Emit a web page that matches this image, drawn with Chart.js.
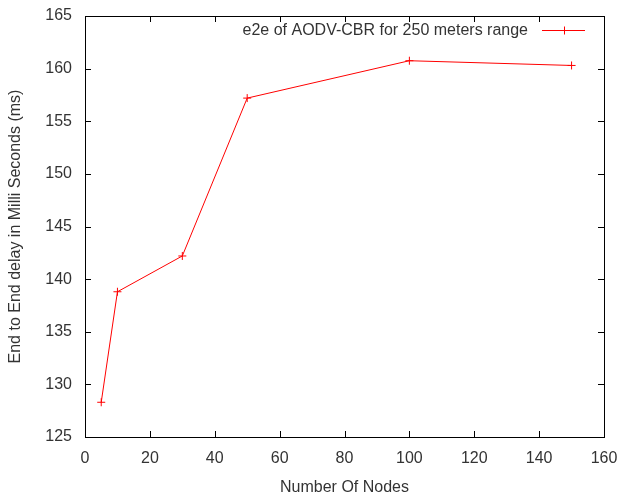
<!DOCTYPE html>
<html>
<head>
<meta charset="utf-8">
<script src="https://cdn.jsdelivr.net/npm/chart.js@4/dist/chart.umd.min.js"></script>
<style>
  html, body { margin: 0; padding: 0; background: #fff; }
  #wrap { width: 619px; height: 497px; }
</style>
</head>
<body>
<div id="wrap"><canvas id="c" width="619" height="497"></canvas></div>
<script>
// data
const nodes = [5, 10, 30, 50, 100, 150];
const delayMs = [128.3, 138.8, 142.2, 157.2, 160.75, 160.3];
const seriesLabel = 'e2e of AODV-CBR for 250 meters range';
const xTitle = 'Number Of Nodes';
const yTitle = 'End to End delay in Milli Seconds (ms)';

const FONT = '"Liberation Sans", Arial, sans-serif';
const TEXT = '#333';

// gnuplot style frame, inward ticks on all four sides and legend in top right
const framePlugin = {
  id: 'frame',
  afterDraw(chart) {
    const { ctx, chartArea: a, scales } = chart;
    ctx.save();
    ctx.strokeStyle = '#000';
    ctx.lineWidth = 1;
    ctx.strokeRect(a.left + 0.5, a.top + 0.5, a.right - a.left, a.bottom - a.top);
    ctx.beginPath();
    const tl = 6;
    scales.x.ticks.forEach(t => {
      const px = Math.round(scales.x.getPixelForValue(t.value)) + 0.5;
      ctx.moveTo(px, a.bottom); ctx.lineTo(px, a.bottom - tl);
      ctx.moveTo(px, a.top); ctx.lineTo(px, a.top + tl);
    });
    scales.y.ticks.forEach(t => {
      const py = Math.round(scales.y.getPixelForValue(t.value)) + 0.5;
      ctx.moveTo(a.left, py); ctx.lineTo(a.left + tl, py);
      ctx.moveTo(a.right, py); ctx.lineTo(a.right - tl, py);
    });
    ctx.stroke();

    // legend
    const ds = chart.data.datasets[0];
    const lx1 = a.right - 62, lx2 = a.right - 19, ly = a.top + 14.5;
    ctx.font = '16px ' + FONT;
    ctx.fillStyle = TEXT;
    ctx.textAlign = 'right';
    ctx.textBaseline = 'middle';
    ctx.fillText(ds.label, lx1 - 14, ly);
    ctx.strokeStyle = ds.borderColor;
    ctx.beginPath();
    ctx.moveTo(lx1, ly); ctx.lineTo(lx2, ly);
    const mx = Math.round((lx1 + lx2) / 2) + 0.5;
    ctx.moveTo(mx, ly - 4); ctx.lineTo(mx, ly + 4);
    ctx.stroke();
    ctx.restore();
  }
};

new Chart(document.getElementById('c'), {
  type: 'line',
  data: {
    datasets: [{
      label: seriesLabel,
      data: nodes.map((n, i) => ({ x: n, y: delayMs[i] })),
      borderColor: '#ff0000',
      backgroundColor: '#ff0000',
      borderWidth: 1,
      pointStyle: 'cross',
      pointRadius: 4,
      pointBorderWidth: 1,
      tension: 0
    }]
  },
  options: {
    responsive: false,
    animation: false,
    layout: { padding: { left: 0, top: 16, right: 15, bottom: 0 } },
    plugins: { legend: { display: false }, tooltip: { enabled: false } },
    scales: {
      x: {
        type: 'linear', min: 0, max: 160,
        ticks: { stepSize: 20, padding: 12, color: TEXT, font: { family: FONT, size: 16 } },
        grid: { display: false, drawTicks: false },
        border: { display: false },
        title: { display: true, text: xTitle, color: TEXT, font: { family: FONT, size: 16 }, padding: { top: 8, bottom: 0 } },
        afterFit(s) { s.height = 60; s.paddingLeft = 0; s.paddingRight = 0; }
      },
      y: {
        min: 125, max: 165,
        ticks: { stepSize: 5, padding: 13, color: TEXT, font: { family: FONT, size: 16 } },
        grid: { display: false, drawTicks: false },
        border: { display: false },
        title: { display: true, text: yTitle, color: TEXT, font: { family: FONT, size: 16 }, padding: { top: 6, bottom: 0 } },
        afterFit(s) { s.width = 85; s.paddingTop = 0; s.paddingBottom = 0; }
      }
    }
  },
  plugins: [framePlugin]
});
</script>
</body>
</html>
